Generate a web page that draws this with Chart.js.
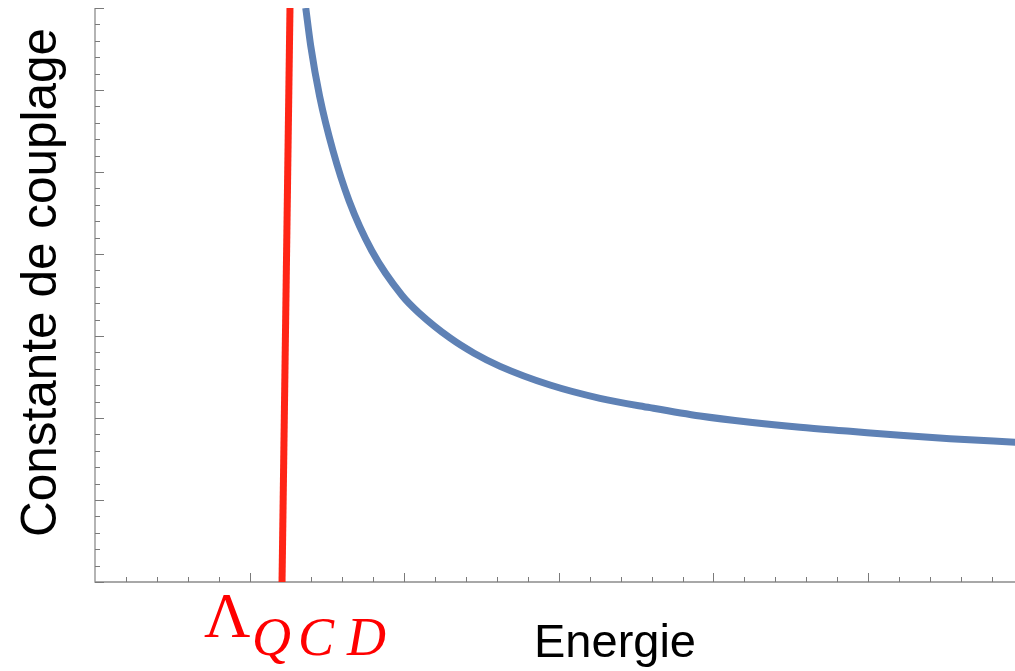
<!DOCTYPE html>
<html>
<head>
<meta charset="utf-8">
<script src="https://cdn.jsdelivr.net/npm/chart.js@4/dist/chart.umd.min.js"></script>
<style>
  html, body { margin: 0; padding: 0; background: #ffffff; }
  #wrap { width: 1015px; height: 671px; position: relative; }
</style>
</head>
<body>
<div id="wrap"><canvas id="c" width="1015" height="671"></canvas></div>
<script>
// ---- data ----
const couplingEnergy = [1.363, 1.395, 1.453, 1.539, 1.643, 1.790, 1.986, 2.102, 2.296, 2.452, 2.620, 2.943, 3.266, 3.590, 3.913, 4.237, 4.560, 4.884, 5.207, 5.530, 5.951];
const couplingValue  = [7.000, 6.540, 5.920, 5.260, 4.650, 4.040, 3.494, 3.270, 2.976, 2.790, 2.630, 2.402, 2.240, 2.126, 2.024, 1.948, 1.887, 1.838, 1.789, 1.748, 1.704];
const lambdaEnergy = [1.2096, 1.261];
const lambdaValue  = [0, 7];

// axis ranges and tick positions (no tick labels shown)
const xRange = [0, 5.95];
const yRange = [0, 7];
const xMajorTicks = [1, 2, 3, 4, 5];
const xMinorTicks = [0.2, 0.4, 0.6, 0.8, 1.2, 1.4, 1.6, 1.8, 2.2, 2.4, 2.6, 2.8, 3.2, 3.4, 3.6, 3.8, 4.2, 4.4, 4.6, 4.8, 5.2, 5.4, 5.6, 5.8];
const yMajorTicks = [0, 1, 2, 3, 4, 5, 6, 7];
const yMinorTicks = [0.2, 0.4, 0.6, 0.8, 1.2, 1.4, 1.6, 1.8, 2.2, 2.4, 2.6, 2.8, 3.2, 3.4, 3.6, 3.8, 4.2, 4.4, 4.6, 4.8, 5.2, 5.4, 5.6, 5.8, 6.2, 6.4, 6.6, 6.8];

const xTitle = 'Energie';
const yTitle = 'Constante de couplage';
const lambdaSymbol = 'Λ';
const lambdaSub = ['Q', 'C', 'D'];

const blueData = couplingEnergy.map((x, i) => ({ x: x, y: couplingValue[i] }));
const redData = lambdaEnergy.map((x, i) => ({ x: x, y: lambdaValue[i] }));

const axesPlugin = {
  id: 'mmaAxes',
  beforeDatasetsDraw(chart) {
    const ctx = chart.ctx;
    const xs = chart.scales.x, ys = chart.scales.y;
    const x0 = xs.getPixelForValue(xRange[0]);
    const x1 = xs.getPixelForValue(xRange[1]);
    const y0 = ys.getPixelForValue(yRange[0]);
    const y1 = ys.getPixelForValue(yRange[1]);
    ctx.save();
    ctx.strokeStyle = '#8c8c8c';
    ctx.lineWidth = 1.3;
    ctx.beginPath();
    ctx.moveTo(x0, y1); ctx.lineTo(x0, y0); ctx.lineTo(x1, y0);
    ctx.stroke();
    ctx.lineWidth = 1;
    ctx.strokeStyle = '#7a7a7a';
    const tick = (x, y, dx, dy) => { ctx.beginPath(); ctx.moveTo(x, y); ctx.lineTo(x + dx, y + dy); ctx.stroke(); };
    xMajorTicks.forEach(v => { const p = Math.round(xs.getPixelForValue(v)) + 0.5; tick(p, y0, 0, -9); });
    xMinorTicks.forEach(v => { const p = Math.round(xs.getPixelForValue(v)) + 0.5; tick(p, y0, 0, -5); });
    yMajorTicks.forEach(v => { const p = Math.round(ys.getPixelForValue(v)) + 0.5; tick(x0, p, 9, 0); });
    yMinorTicks.forEach(v => { const p = Math.round(ys.getPixelForValue(v)) + 0.5; tick(x0, p, 5, 0); });
    ctx.restore();
  },
  afterDraw(chart) {
    const ctx = chart.ctx;
    ctx.save();
    ctx.fillStyle = '#000000';
    ctx.textAlign = 'left';
    ctx.textBaseline = 'alphabetic';
    // x title
    ctx.font = '47px "Liberation Sans", Arial, sans-serif';
    ctx.fillText(xTitle, 534, 657);
    // y title
    ctx.save();
    ctx.font = '49.5px "Liberation Sans", Arial, sans-serif';
    ctx.translate(56, 537);
    ctx.rotate(-Math.PI / 2);
    ctx.fillText(yTitle, 0, 0);
    ctx.restore();
    // Lambda_QCD label
    ctx.fillStyle = '#ff0000';
    ctx.font = '64px "Liberation Serif", "DejaVu Serif", serif';
    ctx.fillText(lambdaSymbol, 204, 637);
    ctx.font = 'italic 54px "Liberation Serif", "DejaVu Serif", serif';
    const subX = [252, 298, 347];
    lambdaSub.forEach((ch, i) => ctx.fillText(ch, subX[i], 655));
    ctx.restore();
  }
};

new Chart(document.getElementById('c'), {
  type: 'scatter',
  data: {
    datasets: [
      {
        label: 'Lambda QCD',
        data: redData,
        showLine: true,
        borderColor: '#ff2516',
        borderWidth: 7,
        pointRadius: 0,
        clip: 0
      },
      {
        label: 'Constante de couplage',
        data: blueData,
        showLine: true,
        borderColor: '#5e81b5',
        borderWidth: 7,
        pointRadius: 0,
        cubicInterpolationMode: 'monotone',
        clip: 0
      }
    ]
  },
  options: {
    responsive: false,
    animation: false,
    layout: { padding: { left: 95, right: 0, top: 8, bottom: 89 } },
    plugins: { legend: { display: false }, tooltip: { enabled: false } },
    scales: {
      x: { type: 'linear', min: xRange[0], max: xRange[1], display: false },
      y: { type: 'linear', min: yRange[0], max: yRange[1], display: false }
    }
  },
  plugins: [axesPlugin]
});
</script>
</body>
</html>
